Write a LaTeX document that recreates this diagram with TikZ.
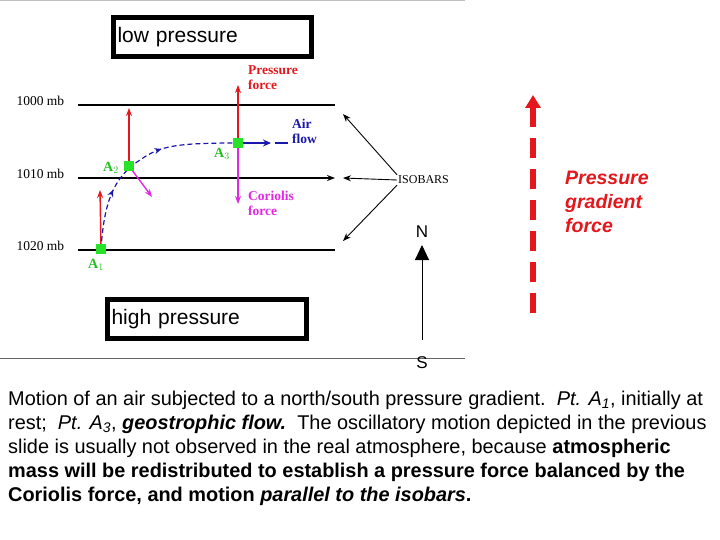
\documentclass[tikz,border=0pt]{standalone}
\usepackage{fontspec}
\setmainfont{Liberation Serif}
\setsansfont{Liberation Sans}
\usepackage{tikz}
\usetikzlibrary{arrows.meta,positioning,calc,decorations.markings}
\definecolor{pfred}{RGB}{228,24,28}
\definecolor{cormag}{RGB}{226,40,226}
\definecolor{flowblue}{RGB}{24,24,170}
\definecolor{parcelgreen}{RGB}{40,226,40}
\tikzstyle{isobar} = [line width=1.4pt]
\tikzstyle{pbox} = [draw, line width=5pt, inner xsep=4pt, minimum height=39pt, align=left, font=\sffamily\fontsize{21}{24}\selectfont]
\tikzstyle{parcel} = [fill=parcelgreen, minimum size=10pt, inner sep=0pt]
\tikzstyle{redforce} = [pfred, line width=1.4pt, -{Stealth[length=8pt,width=6pt]}]
\tikzstyle{magforce} = [cormag, line width=1.4pt, -{Stealth[length=8pt,width=6pt]}]
\tikzstyle{mb} = [font=\fontsize{13.5}{14}\selectfont, anchor=west]
\tikzstyle{plbl} = [parcelgreen!85!black, font=\fontsize{14}{14}\selectfont\bfseries]
\tikzstyle{flbl} = [anchor=north west, align=left, inner sep=0pt, font=\fontsize{13.5}{15}\selectfont\bfseries]
\tikzstyle{para} = [anchor=west, inner sep=0pt, font=\sffamily\fontsize{19.9}{22}\selectfont]

\begin{document}
\begin{tikzpicture}[x=1pt, y=-1pt, >=stealth]
  \useasboundingbox (0,0) rectangle (720,540);
  \draw[gray!50, line width=1pt] (0,0.5) -- (465,0.5);
  \draw[gray!80!black, line width=0.8pt] (0,358) -- (465,358);

  % pressure boxes
  \node[pbox, text width=190pt] (lowP) at (212.5,37) {low pressure};
  \node[pbox, text width=191pt] (highP) at (207,319) {high pressure};

  % isobars
  \coordinate (i0w) at (78,105);  \coordinate (i0e) at (335,105);
  \coordinate (i1w) at (78,178);  \coordinate (i1e) at (335,178);
  \coordinate (i2w) at (78,250);  \coordinate (i2e) at (335,250);
  \draw[isobar] (i0w) -- (i0e);
  \draw[isobar, -{Stealth[length=8pt,width=6pt]}] (i1w) -- (i1e);
  \draw[isobar] (i2w) -- (i2e);
  \node[mb] (mb0) at (13,101) {1000 mb};
  \node[mb] (mb1) at (13,174) {1010 mb};
  \node[mb] (mb2) at (13,246) {1020 mb};

  % ISOBARS label and pointers
  \node[anchor=west, inner sep=1pt, font=\fontsize{12}{13}\selectfont] (iso) at (397,180) {ISOBARS};
  \coordinate (isoUp) at (343,114);
  \coordinate (isoMid) at (343,178);
  \coordinate (isoDn) at (343,241);
  \draw[line width=0.9pt, -{Stealth[length=8pt,width=6pt]}] (iso.north west) -- (isoUp);
  \draw[line width=0.9pt, -{Stealth[length=8pt,width=6pt]}] (iso.west) -- (isoMid);
  \draw[line width=0.9pt, -{Stealth[length=8pt,width=6pt]}] (iso.south west) -- (isoDn);

  % forces (under the parcels)
  \coordinate (p1) at (101,249);
  \coordinate (p2) at (129,166);
  \coordinate (p3) at (238,143);
  \coordinate (pf1) at (100,190);
  \coordinate (pf2) at (129,108);
  \coordinate (pf3) at (238,85);
  \coordinate (cf2) at (152,197);
  \coordinate (cf3) at (238,204);
  \draw[redforce] (p1) -- (pf1);
  \draw[redforce] (p2) -- (pf2);
  \draw[redforce] (p3) -- (pf3);
  \draw[magforce] (p2) -- (cf2);
  \draw[magforce] (p3) -- (cf3);

  % air flow path
  \draw[flowblue, line width=1.2pt, dash pattern=on 5pt off 3pt,
    postaction={decorate}, decoration={markings,
      mark=at position 0.3 with {\arrow{Stealth[length=7pt,width=6pt]}},
      mark=at position 0.62 with {\arrow{Stealth[length=7pt,width=6pt]}}}]
    (p1) .. controls (104,205) and (112,178) .. (140,160)
    .. controls (160,146) and (175,143) .. (p3);

  % air parcels
  \node[parcel] (a1) at (p1) {};
  \node[parcel] (a2) at (p2) {};
  \node[parcel] (a3) at (p3) {};
  \node[plbl] (a1lbl) at (96,265) {A$_1$};
  \node[plbl] (a2lbl) at (111,168) {A$_2$};
  \node[plbl] (a3lbl) at (222,154) {A$_3$};

  \coordinate (flowEnd) at (288,143);
  \draw[flowblue, line width=1.2pt, dash pattern=on 24pt off 8pt,
    postaction={decorate}, decoration={markings,
      mark=at position 0.62 with {\arrow{Stealth[length=8pt,width=7pt]}}}]
    (a3.east) -- (flowEnd);

  \node[pfred, flbl] (pflbl) at (248,65) {Pressure\\force};
  \node[flowblue, flbl] (aflbl) at (292,119) {Air\\flow};
  \node[cormag, flbl] (cflbl) at (248,191) {Coriolis\\force};

  % compass
  \node[font=\sffamily\fontsize{17}{18}\selectfont] (north) at (422,232) {N};
  \node[font=\sffamily\fontsize{17}{18}\selectfont] (south) at (422,363) {S};
  \coordinate (nBase) at (422,340);
  \coordinate (nTip) at (422,245);
  \draw[line width=0.9pt, -{Triangle[length=15pt,width=14pt]}] (nBase) -- (nTip);

  % pressure gradient force
  \coordinate (pgfBot) at (533,313);
  \coordinate (pgfTop) at (533,95);
  \draw[pfred, line width=6pt, dash pattern=on 20pt off 11pt, -{Triangle[length=13pt,width=15pt]}] (pgfBot) -- (pgfTop);
  \node[pfred, anchor=west, align=left, inner sep=0pt, font=\sffamily\bfseries\itshape\fontsize{19.5}{24}\selectfont] (pgflbl) at (565,202) {Pressure\\gradient\\force};

  % caption
  \node[para] (l1) at (8,400) {Motion of an air subjected to a north/south pressure gradient.\ \ \textit{Pt. A\textsubscript{1}}, initially at};
  \node[para] (l2) at (8,424) {rest;\ \ \textit{Pt. A\textsubscript{3}}, \textbf{\textit{geostrophic flow.}}\ \ The oscillatory motion depicted in the previous};
  \node[para] (l3) at (8,448) {slide is usually not observed in the real atmosphere, because \textbf{atmospheric}};
  \node[para] (l4) at (8,472) {\textbf{mass will be redistributed to establish a pressure force balanced by the}};
  \node[para] (l5) at (8,496) {\textbf{Coriolis force, and motion \textit{parallel to the isobars}.}};
\end{tikzpicture}
\end{document}
